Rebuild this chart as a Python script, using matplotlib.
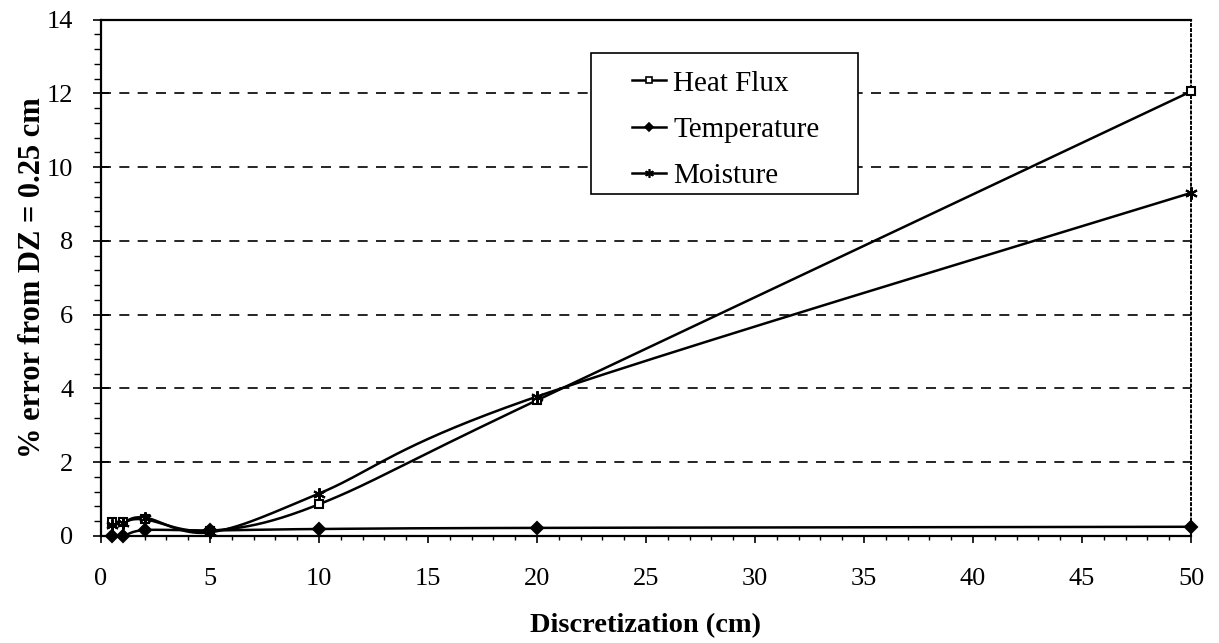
import numpy as np
import matplotlib
matplotlib.use("Agg")
import matplotlib.pyplot as plt
from matplotlib.ticker import MultipleLocator
from matplotlib.patches import Rectangle
from matplotlib.lines import Line2D

# ---- data ----
discretization = [0.5, 1, 2, 5, 10, 20, 50]
heat_flux = [0.39, 0.38, 0.45, 0.14, 0.86, 3.68, 12.05]
temperature = [0.0, 0.0, 0.16, 0.15, 0.19, 0.22, 0.25]
moisture = [0.30, 0.36, 0.50, 0.10, 1.15, 3.78, 9.30]
series_names = ["Heat Flux", "Temperature", "Moisture"]
x_ticks = [0, 5, 10, 15, 20, 25, 30, 35, 40, 45, 50]
y_ticks = [0, 2, 4, 6, 8, 10, 12, 14]

plt.rcParams["font.family"] = ["Liberation Serif", "DejaVu Serif"]

W, H = 1219, 643
fig = plt.figure(figsize=(W / 100, H / 100), dpi=100)
ax = fig.add_axes([101 / W, 1 - 536 / H, 1090 / W, 516.5 / H])
ax.set_xlim(0, 50)
ax.set_ylim(0, 14)

# grid
for yv in y_ticks[1:-1]:
    ax.axhline(yv, color="black", lw=1.2, dashes=(6, 5), zorder=1)

ax.set_xticks(x_ticks)
ax.set_yticks(y_ticks)
ax.xaxis.set_minor_locator(MultipleLocator(1))
ax.yaxis.set_minor_locator(MultipleLocator(0.4))
ax.tick_params(axis="both", which="major", labelsize=19, color="black", width=1.2)
ax.tick_params(axis="y", which="major", direction="inout", length=12, pad=14)
ax.tick_params(axis="y", which="minor", direction="out", length=5, width=1)
ax.tick_params(axis="x", which="major", direction="out", length=5, pad=18)
ax.tick_params(axis="x", which="minor", direction="out", length=3, width=1)

for s in ["left", "bottom", "top"]:
    ax.spines[s].set_linewidth(1.6)
    ax.spines[s].set_color("black")
ax.spines["right"].set_linestyle(":")
ax.spines["right"].set_linewidth(1.4)

ax.set_xlabel("Discretization (cm)", fontsize=20.5, fontweight="bold", labelpad=17)
ax.set_ylabel("% error from DZ = 0.25 cm", fontsize=22, fontweight="bold", labelpad=0)


def smooth_curve(xs, ys, n=40):
    """Excel-style Bezier smoothing computed in display space."""
    pts = ax.transData.transform(np.column_stack([xs, ys]))
    P = np.vstack([pts[0], pts, pts[-1]])
    out = []
    t = np.linspace(0, 1, n)[:, None]
    for i in range(1, len(P) - 2):
        p0, p1, p2, p3 = P[i - 1], P[i], P[i + 1], P[i + 2]
        c1 = p1 + (p2 - p0) / 6.0
        c2 = p2 - (p3 - p1) / 6.0
        seg = ((1 - t) ** 3) * p1 + 3 * ((1 - t) ** 2) * t * c1 + 3 * (1 - t) * t ** 2 * c2 + t ** 3 * p2
        out.append(seg)
    out = np.vstack(out)
    return ax.transData.inverted().transform(out)


markers = ["s", "D", (6, 2, 0)]
msizes = [6, 6, 9]
mfcs = ["white", "black", "black"]
for vals, mk, ms, mfc in zip([heat_flux, temperature, moisture], markers, msizes, mfcs):
    c = smooth_curve(discretization, vals)
    ax.plot(c[:, 0], c[:, 1], color="black", lw=1.8, zorder=3, clip_on=False)
    ax.plot(discretization, vals, linestyle="none", marker=mk, ms=ms, mfc=mfc,
            mec="black", mew=1.5, zorder=4, clip_on=False)

# legend
handles = []
for mk, ms, mfc in zip(markers, msizes, mfcs):
    handles.append(Line2D([0], [0], color="black", lw=1.8, marker=mk, ms=ms * 0.7,
                          mfc=mfc, mec="black", mew=1.2))
leg = ax.legend(handles, series_names, loc="upper left",
                bbox_to_anchor=(0.487, 0.902), frameon=False, fontsize=21,
                handlelength=1.17, handletextpad=0.25, labelspacing=0.68,
                borderpad=0, borderaxespad=0)
ax.add_patch(Rectangle((0.4495, 0.662), 0.245, 0.273, transform=ax.transAxes,
                       fill=True, facecolor="white", edgecolor="black", lw=1.2, zorder=5))
leg.set_zorder(6)

fig.savefig("out.png", dpi=100)
